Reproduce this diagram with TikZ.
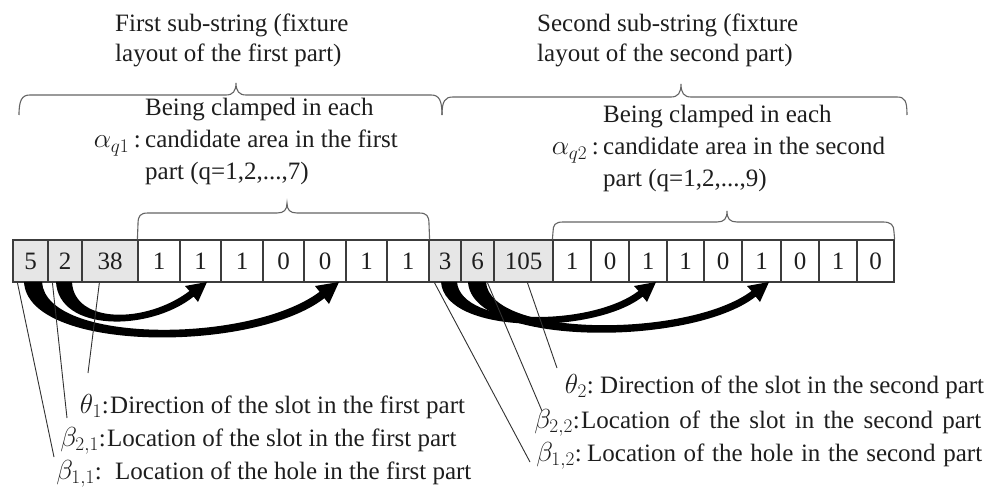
\RequirePackage{fix-cm}
\documentclass[tikz,border=0pt]{standalone}
\usepackage{fontspec}
\setmainfont{Liberation Serif}
\usetikzlibrary{calc}
\definecolor{textc}{RGB}{30,30,30}
\definecolor{cellline}{RGB}{60,60,60}
\definecolor{cellgray}{RGB}{230,230,230}
\definecolor{bracec}{RGB}{100,100,100}
\definecolor{leaderc}{RGB}{50,50,50}
\newcommand\lblfont{\fontsize{25}{30}\selectfont}
\newcommand\symfont{\fontsize{27.5}{30}\selectfont}
\newcommand\clon{{\lblfont:}}
\tikzset{
  cellw/.style={draw=cellline, line width=1.2pt, fill=white, minimum height=42pt, inner sep=0pt, font=\lblfont, text=textc},
  cellg/.style={cellw, fill=cellgray},
  lbl/.style={anchor=base west, inner sep=0pt, font=\lblfont, text=textc},
  sym/.style={anchor=base east, inner sep=0pt, font=\symfont, text=textc},
  bracel/.style={draw=bracec, line width=1.1pt},
  leader/.style={draw=leaderc, line width=0.9pt},
  bigarrow/.style={fill=black, draw=none},
}
\begin{document}
\begin{tikzpicture}[x=1pt,y=-1pt]
\fill[white] (0,0) rectangle (999,497);
\useasboundingbox (0,0) rectangle (999,497);

% cells
\foreach \l/\r/\t/\s [count=\i] in {
  13/48/5/cellg, 48/82/2/cellg, 82/138/38/cellg,
  138/180/1/cellw, 180/221/1/cellw, 221/263/1/cellw, 263/304/0/cellw,
  304/346/0/cellw, 346/387/1/cellw, 387/429/1/cellw,
  429/461/3/cellg, 461/494/6/cellg, 494/553/105/cellg,
  553/591/1/cellw, 591/629/0/cellw, 629/667/1/cellw, 667/704/1/cellw,
  704/742/0/cellw, 742/781/1/cellw, 781/819/0/cellw, 819/857/1/cellw,
  857/894/0/cellw}{
  \pgfmathsetmacro\w{\r-\l}
  \pgfmathsetmacro\cx{(\l+\r)/2}
  \node[\s, minimum width=\w pt] (c\i) at (\cx,261) {\t};
}

% top texts
\node[lbl] (t1a) at (115,32) {First sub-string (fixture};
\node[lbl] (t1b) at (115,62) {layout of the first part)};
\node[lbl] (t2a) at (537,32) {Second sub-string (fixture};
\node[lbl] (t2b) at (537,62) {layout of the second part)};

% top braces
\draw[bracel] (19,115) .. controls (19,100) and (22,95) .. (30,95) -- (226,95)
  .. controls (233,95) and (236,91) .. (236,83)
  .. controls (236,91) and (239,95) .. (246,95) -- (431,95)
  .. controls (439,95) and (442,100) .. (442,115);
\draw[bracel] (442,115) .. controls (442,101) and (445,97) .. (453,97) -- (671,97)
  .. controls (678,97) and (681,93) .. (681,84)
  .. controls (681,93) and (684,97) .. (691,97) -- (897,97)
  .. controls (905,97) and (907,101) .. (907,115);

% alpha blocks
\node[sym] (a1) at (141,148) {$\alpha_{q1}$\,\clon};
\node[lbl] (a1a) at (145,116) {Being clamped in each};
\node[lbl] (a1b) at (145,148) {candidate area in the first};
\node[lbl] (a1c) at (145,180) {part (q=1,2,...,7)};
\node[sym] (a2) at (599,155) {$\alpha_{q2}$\,\clon};
\node[lbl] (a2a) at (603,123) {Being clamped in each};
\node[lbl] (a2b) at (603,155) {candidate area in the second};
\node[lbl] (a2c) at (603,187) {part (q=1,2,...,9)};

% lower braces
\draw[bracel] (c4.north west) -- (138,224) .. controls (138,216) and (140,213) .. (148,213) -- (277,213)
  .. controls (284,213) and (287,210) .. (287,203)
  .. controls (287,210) and (290,213) .. (297,213) -- (419,213)
  .. controls (427,213) and (429,216) .. (429,224) -- (c10.north east);
\draw[bracel] (c14.north west) -- (553,232) .. controls (553,225) and (555,222) .. (563,222) -- (717,222)
  .. controls (724,222) and (727,219) .. (727,211)
  .. controls (727,219) and (730,222) .. (737,222) -- (883,222)
  .. controls (891,222) and (894,225) .. (894,232) -- (c22.north east);

% curved arrows
\fill[bigarrow] (24,282) .. controls (28,353) and (254,353) .. (324.4,298.2)
  -- (329,304) -- (339,282) -- (315,286) -- (319.6,291.8)
  .. controls (250,344) and (46,344) .. (42,282) -- cycle;
\fill[bigarrow] (56,282) .. controls (59,332) and (149,332) .. (193.7,296.6)
  -- (198,302) -- (207,282) -- (185,286) -- (189.5,291)
  .. controls (146,324) and (74,324) .. (72,282) -- cycle;
\fill[bigarrow] (441,282) .. controls (445,335) and (594,335) .. (642.7,296.6)
  -- (647,302) -- (656,282) -- (634,286) -- (638.5,291)
  .. controls (591,327) and (461,327) .. (457,282) -- cycle;
\fill[bigarrow] (468,282) .. controls (472,347) and (691,347) .. (755.7,296.6)
  -- (760,302) -- (769,282) -- (747,286) -- (751.5,291)
  .. controls (689,338) and (490,338) .. (486,282) -- cycle;

% bottom labels left
\node[sym] (th1) at (109,413) {$\theta_1$\clon};
\node[lbl] (th1t) at (110,413) {Direction of the slot in the first part};
\node[sym] (b21) at (106,446) {$\beta_{2,1}$\clon};
\node[lbl] (b21t) at (107,446) {Location of the slot in the first part};
\node[sym] (b11) at (102,479) {$\beta_{1,1}$\clon};
\node[lbl] (b11t) at (115,479) {Location of the hole in the first part};

% bottom labels right
\node[sym] (th2) at (594,393) {$\theta_2$\clon};
\node[lbl] (th2t) at (600,393) {Direction of the slot in the second part};
\node[sym] (b22) at (580,428) {$\beta_{2,2}$\clon};
\node[lbl] (b22t) at (581,428) {\makebox[400pt][s]{Location of the slot in the second part}};
\node[sym] (b12) at (582,461) {$\beta_{1,2}$\clon};
\node[lbl] (b12t) at (587,461) {\makebox[395pt][s]{Location of the hole in the second part}};

% leader lines
\coordinate (e1) at (54,457);
\coordinate (e2) at (67,418);
\coordinate (e3) at (88,373);
\coordinate (e4) at (530,462);
\coordinate (e5) at (542,411);
\coordinate (e6) at (557,368);
\draw[leader] ($(c1.south west)+(5,0)$) -- (e1);
\draw[leader] ($(c2.south west)+(5,0)$) -- (e2);
\draw[leader] ($(c3.south west)+(18,0)$) -- (e3);
\draw[leader] ($(c11.south west)+(6,0)$) -- (e4);
\draw[leader] ($(c12.south west)+(27,0)$) -- (e5);
\draw[leader] ($(c13.south west)+(34,0)$) -- (e6);
\end{tikzpicture}
\end{document}
